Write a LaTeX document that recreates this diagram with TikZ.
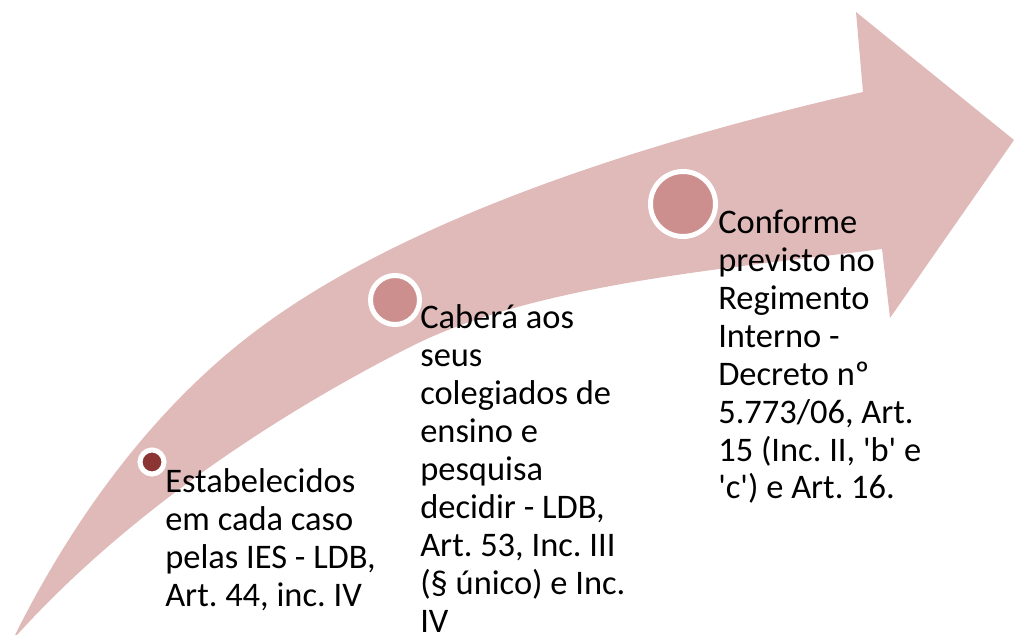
\documentclass[tikz,border=0pt]{standalone}
\usepackage{fontspec}
\setmainfont{Carlito}
\usepackage{tikz}
\usetikzlibrary{positioning}
\definecolor{bandpink}{HTML}{E0BAB9}
\definecolor{dotdark}{HTML}{8B3535}
\definecolor{dotrose}{HTML}{CD8F8E}
\frenchspacing
\tikzset{milestone/.style n args={2}{
    circle, draw=white, line width=0.125cm, fill=#1, minimum size=#2, inner sep=0pt
    },
    desc/.style={
    anchor=base west, align=left, inner sep=0pt,
    font=\fontsize{24.5}{27}\selectfont
    }
}
\begin{document}
\begin{tikzpicture}[x=0.025cm,y=-0.025cm]
	\useasboundingbox (0,0) rectangle (1014,635);

	% curved arrow
	\fill[bandpink] (15,635) .. controls (73,519) and (153,408) .. (257,330)
		.. controls (409,216) and (653,140) .. (863,92)
		-- (856,12) -- (1014,140) -- (890,318) -- (882,249)
		.. controls (724,269) and (535,284) .. (410,347)
		.. controls (268,419) and (124,517) .. (17,635)
		-- cycle;

	\node[milestone={dotdark}{0.6cm}] (C1) at (152,462) {};
	\node[milestone={dotrose}{1.225cm}] (C2) at (395,300) {};
	\node[milestone={dotrose}{1.625cm}] (C3) at (683,204) {};

	% base anchor = last line
	\node[desc] (T1) at (165,606) {Estabelecidos\\em cada caso\\pelas IES - LDB,\\Art. 44, inc. IV};
	\node[desc] (T2) at (420,632) {Caberá aos\\seus\\colegiados de\\ensino e\\pesquisa\\decidir - LDB,\\Art. 53, Inc. III\\(§ único) e Inc.\\IV};
	\node[desc] (T3) at (718,499) {Conforme\\previsto no\\Regimento\\Interno -\\Decreto nº\\5.773/06, Art.\\15 (Inc. II, \textquotesingle b\textquotesingle\ e\\\textquotesingle c\textquotesingle) e Art. 16.};

\end{tikzpicture}
\end{document}
